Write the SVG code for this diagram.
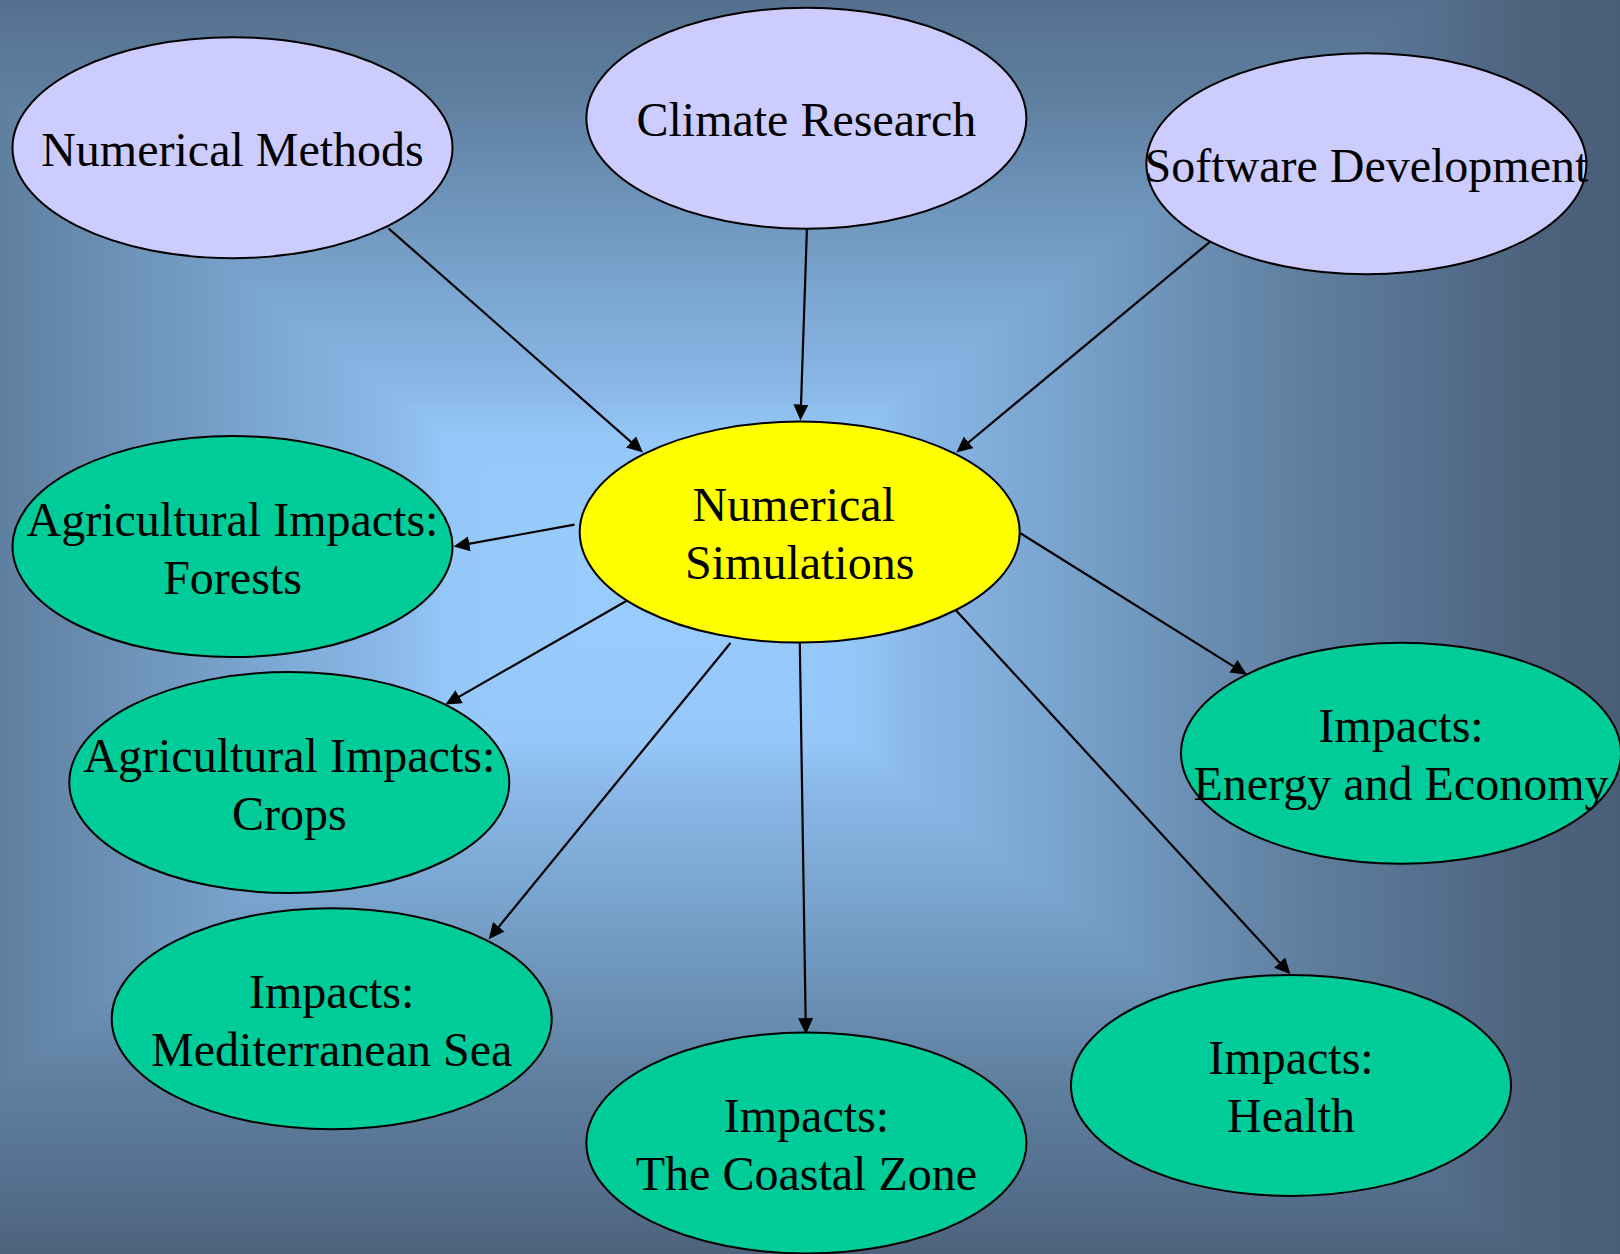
<svg xmlns="http://www.w3.org/2000/svg" width="1620" height="1254" viewBox="0 0 1620 1254">
  <defs>
    <!-- rectangular "from centre" background: four wedges sharing one stop profile -->
    <linearGradient id="bgTop" gradientUnits="userSpaceOnUse" x1="650" y1="590" x2="650" y2="-168">
      <stop offset="0" stop-color="#9acdff"/><stop offset="0.2" stop-color="#95c8f9"/><stop offset="0.26" stop-color="#8ab8e8"/><stop offset="0.4" stop-color="#7aa5cf"/><stop offset="0.65" stop-color="#5f7f9f"/><stop offset="0.78" stop-color="#55708e"/><stop offset="0.88" stop-color="#4d627c"/><stop offset="0.97" stop-color="#4a5e78"/><stop offset="1" stop-color="#495d77"/>
    </linearGradient>
    <linearGradient id="bgBottom" href="#bgTop" x1="650" y1="590" x2="650" y2="1348"/>
    <linearGradient id="bgLeft" href="#bgTop" x1="650" y1="590" x2="-350" y2="590"/>
    <linearGradient id="bgRight" href="#bgTop" x1="650" y1="590" x2="1650" y2="590"/>
    <marker id="arrow" markerUnits="userSpaceOnUse" markerWidth="16" markerHeight="15" refX="12" refY="7.5" orient="auto">
      <path d="M0,0 L16,7.5 L0,15 z" fill="#000"/>
    </marker>
    <style>
      .node ellipse { stroke: #000; stroke-width: 2; }
      .src ellipse { fill: #ccccff; }
      .hub ellipse { fill: #ffff00; }
      .out ellipse { fill: #00cc99; }
      .node text { font-family: "Liberation Serif", "Times New Roman", serif; font-size: 48px; fill: #000; text-anchor: middle; }
      .edge { stroke: #000; stroke-width: 2.2; fill: none; marker-end: url(#arrow); }
    </style>
  </defs>

  <!-- background: left/right halves underneath, top/bottom wedges on top (no seams) -->
  <g id="background">
    <rect x="0" y="0" width="651" height="1254" fill="url(#bgLeft)"/>
    <rect x="650" y="0" width="970" height="1254" fill="url(#bgRight)"/>
    <polygon points="650,590 -350,-168 1650,-168" fill="url(#bgTop)"/>
    <polygon points="650,590 -350,1348 1650,1348" fill="url(#bgBottom)"/>
  </g>

  <!-- connectors -->
  <g id="connectors">
    <path class="edge" d="M388.5,228.3 L640,449.9"/>
    <path class="edge" d="M806.9,229.4 L800.6,416.5"/>
    <path class="edge" d="M1209.9,241.8 L959.4,450"/>
    <path class="edge" d="M574.5,524.7 L457.5,545.9"/>
    <path class="edge" d="M629.8,599 L448.8,702.6"/>
    <path class="edge" d="M730.5,643 L491.2,936.1"/>
    <path class="edge" d="M799.8,643 L805.8,1030.2"/>
    <path class="edge" d="M955.9,610.3 L1287.8,971.4"/>
    <path class="edge" d="M1020.4,533.2 L1243.6,672.6"/>
  </g>

  <!-- nodes -->
  <g id="numerical-methods" class="node src">
    <ellipse cx="232.5" cy="147.7" rx="220" ry="110.5"/>
    <text x="232.5" y="165.7">Numerical Methods</text>
  </g>
  <g id="climate-research" class="node src">
    <ellipse cx="806.4" cy="118.3" rx="220" ry="110.5"/>
    <text x="806.4" y="136.3">Climate Research</text>
  </g>
  <g id="software-development" class="node src">
    <ellipse cx="1366.4" cy="163.8" rx="220" ry="110.5"/>
    <text x="1366.4" y="181.8">Software Development</text>
  </g>
  <g id="numerical-simulations" class="node hub">
    <ellipse cx="799.7" cy="532.1" rx="220" ry="110.5"/>
    <text x="793.7" y="521">Numerical</text>
    <text x="799.7" y="579">Simulations</text>
  </g>
  <g id="agri-forests" class="node out">
    <ellipse cx="232.5" cy="546.6" rx="220" ry="110.5"/>
    <text x="232.5" y="535.6">Agricultural Impacts:</text>
    <text x="232.5" y="593.6">Forests</text>
  </g>
  <g id="agri-crops" class="node out">
    <ellipse cx="289.3" cy="782.6" rx="220" ry="110.5"/>
    <text x="289.3" y="771.6">Agricultural Impacts:</text>
    <text x="289.3" y="829.6">Crops</text>
  </g>
  <g id="impacts-mediterranean" class="node out">
    <ellipse cx="331.7" cy="1018.7" rx="220" ry="110.5"/>
    <text x="331.7" y="1007.7">Impacts:</text>
    <text x="331.7" y="1065.7">Mediterranean Sea</text>
  </g>
  <g id="impacts-coastal" class="node out">
    <ellipse cx="806.4" cy="1143" rx="220" ry="110.5"/>
    <text x="806.4" y="1132">Impacts:</text>
    <text x="806.4" y="1190">The Coastal Zone</text>
  </g>
  <g id="impacts-health" class="node out">
    <ellipse cx="1291" cy="1085.4" rx="220" ry="110.5"/>
    <text x="1291" y="1074.4">Impacts:</text>
    <text x="1291" y="1132.4">Health</text>
  </g>
  <g id="impacts-energy" class="node out">
    <ellipse cx="1401" cy="753.2" rx="220" ry="110.5"/>
    <text x="1401" y="742.2">Impacts:</text>
    <text x="1401" y="800.2">Energy and Economy</text>
  </g>
</svg>
